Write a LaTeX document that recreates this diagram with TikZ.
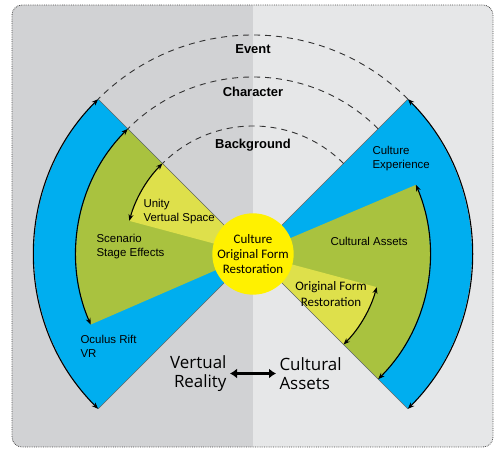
\documentclass[tikz,border=0pt]{standalone}
\usepackage{fontspec}
\setmainfont{Liberation Sans}
\newfontfamily\calibri{Carlito}
\newfontfamily\segoe{Open Sans}
\usetikzlibrary{arrows.meta,calc,positioning}
\definecolor{bleu}{HTML}{00AEEF}
\definecolor{vert}{HTML}{A9C23F}
\definecolor{jaune}{HTML}{DEE04B}
\definecolor{jaunevif}{HTML}{FFF100}
\definecolor{grisfonce}{HTML}{D1D2D4}
\definecolor{grisclair}{HTML}{E6E7E8}

\begin{document}
\begin{tikzpicture}[x=1bp,y=1bp,>={Stealth[length=6.5bp,width=5bp]}]
%styles : arcs fléchés, pointillés, bords des secteurs, étiquettes
\tikzset{fleche/.style={<->,black,line width=1.1bp}}
\tikzset{pointille/.style={dash pattern=on 6bp off 5bp,line width=0.9bp,black!80}}
\tikzset{bord/.style={black!60,line width=0.6bp}}
\tikzset{titre/.style={font=\bfseries\fontsize{13}{15}\selectfont}}
\tikzset{etiq/.style={anchor=west,align=left,font=\fontsize{11.5}{14}\selectfont}}
\tikzset{grand/.style={font=\segoe\fontsize{17}{19.5}\selectfont}}

\useasboundingbox (0,0) rectangle (495,449);
%fond en deux teintes
\begin{scope}
\clip[rounded corners=10bp] (12,2) rectangle (493,444);
\fill[grisfonce] (12,2) rectangle (253,444);
\fill[grisclair] (253,2) rectangle (493,444);
\end{scope}
\draw[densely dotted,black!70,line width=0.8bp,rounded corners=10bp] (12,2) rectangle (493,444);

\coordinate (c) at (253,195);

%secteurs : angle de départ / angle d'arrivée / rayon / couleur
\foreach \d/\f/\r/\coul in {135/225/219/bleu,135/203.5/177/vert,135/165/128/jaune,
  -45/45/219/bleu,-45/23/177/vert,-45/-15/128/jaune}
  \fill[\coul] (c) -- ++(\d:\r) arc[start angle=\d,end angle=\f,radius=\r] -- cycle;
\foreach \a in {45,135,225,315} \draw[bord] (c) -- ++(\a:219);

%arcs fléchés sur le bord des secteurs
\foreach \d/\f/\r in {135/225/219,135/203.5/177,135/165/128,-45/45/219,-45/23/177,-45/-15/128}
  \draw[fleche] ($(c)+(\d:\r)$) arc[start angle=\d,end angle=\f,radius=\r];

%arcs en pointillés
\foreach \r in {219,177,128}
  \draw[pointille] ($(c)+(45:\r)$) arc[start angle=45,end angle=135,radius=\r];

\node[titre] (event) at (253,400) {Event};
\node[titre] (character) at (253,357) {Character};
\node[titre] (background) at (253,304) {Background};

\node[etiq] (unity) at (140,237) {Unity\\Vertual Space};
\node[etiq] (scenario) at (93,202) {Scenario\\Stage Effects};
\node[etiq] (oculus) at (77,102.5) {Oculus Rift\\VR};
\node[etiq] (experience) at (369,290) {Culture\\Experience};
\node[etiq] (assets) at (327,208) {Cultural Assets};
\node[align=center,font=\calibri\fontsize{13}{15.5}\selectfont] (forme) at (331,155) {Original Form\\Restoration};

\node[circle,fill=jaunevif,minimum size=80bp,inner sep=0pt,align=center,
  font=\calibri\fontsize{13}{15}\selectfont] (centre) at (c) {Culture\\Original Form\\Restoration};

\node[grand,anchor=east,align=right] (vr) at (230,75.5) {Vertual\\Reality};
\node[grand,anchor=west,align=left] (ca) at (276,75.5) {Cultural\\Assets};
\draw[{Latex[length=7bp,width=10bp]}-{Latex[length=7bp,width=10bp]},line width=3bp] (vr) -- (ca);
\end{tikzpicture}
\end{document}
